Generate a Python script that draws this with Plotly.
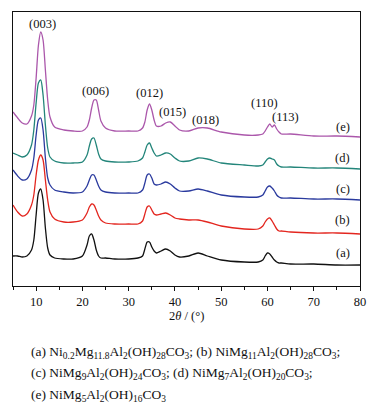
import plotly.graph_objects as go

two_theta = [5, 6, 7, 8, 9, 9.5, 10, 10.5, 11, 11.5, 12, 12.5, 13, 14, 16, 18, 20, 21, 21.5, 22,
             22.5, 23, 23.5, 24, 25, 27, 30, 32, 33, 33.5, 34, 34.5, 35, 35.5, 36, 37, 38, 39, 40, 41,
             43, 45, 47, 50, 55, 58, 59, 59.5, 60, 60.5, 61, 61.5, 62, 62.5, 63, 65, 70, 75, 80]

int_e = [174, 168, 163, 162, 170, 181, 208, 241, 254, 246, 216, 186, 169, 159, 156, 155, 155, 159, 166, 178,
         186, 186, 176, 165, 158, 155, 155, 155, 158, 164, 176, 182, 176, 166, 160, 160, 163, 164, 160, 156,
         155, 158, 158, 154, 151, 151, 152, 155, 159, 162, 159, 161, 157, 154, 152, 152, 150, 150, 149]
int_d = [133, 131, 129, 131, 141, 156, 183, 203, 206, 191, 161, 138, 129, 125, 123, 123, 124, 131, 140, 147,
         148, 141, 132, 127, 125, 124, 124, 125, 128, 134, 141, 143, 138, 133, 130, 131, 133, 132, 128, 125,
         125, 128, 127, 123, 121, 120, 121, 124, 127, 128, 127, 126, 122, 120, 119, 119, 118, 118, 117]
int_c = [116, 110, 106, 107, 116, 128, 151, 166, 168, 156, 128, 108, 101, 96, 94, 93, 94, 100, 106, 111,
         111, 106, 100, 96, 94, 93, 93, 93, 96, 103, 111, 112, 108, 102, 101, 102, 104, 102, 98, 95,
         95, 97, 95, 91, 89, 89, 91, 95, 99, 100, 98, 95, 91, 89, 88, 88, 87, 87, 86]
int_b = [81, 74, 70, 72, 81, 91, 111, 126, 131, 126, 106, 86, 74, 67, 64, 64, 66, 73, 79, 82,
         81, 76, 70, 66, 63, 62, 62, 62, 65, 72, 79, 80, 76, 72, 71, 72, 73, 71, 68, 67,
         66, 66, 64, 60, 57, 57, 60, 64, 67, 68, 65, 61, 57, 55, 55, 54, 53, 53, 52]
int_a = [30, 30, 29, 30, 36, 46, 71, 93, 97, 86, 58, 38, 31, 28, 27, 27, 30, 41, 50, 52,
         46, 36, 30, 28, 28, 27, 27, 28, 30, 37, 44, 44, 39, 35, 33, 35, 37, 35, 31, 29,
         30, 33, 30, 26, 24, 24, 26, 30, 33, 32, 29, 26, 24, 23, 23, 22, 22, 21, 21]

series = [("(a)", int_a, "#111111"), ("(b)", int_b, "#e3261f"), ("(c)", int_c, "#2a3a9e"),
          ("(d)", int_d, "#23857a"), ("(e)", int_e, "#ab57ab")]

peak_labels = ["(003)", "(006)", "(012)", "(015)", "(018)", "(110)", "(113)"]
peak_x = [11.4, 22.8, 34.5, 39.4, 46.6, 59.4, 63.9]
peak_y = [262, 195, 193, 174, 166, 183, 169]

curve_labels = ["(a)", "(b)", "(c)", "(d)", "(e)"]
curve_label_y = [33, 66, 97, 128, 159]

caption = [
    "(a) Ni<sub>0.2</sub>Mg<sub>11.8</sub>Al<sub>2</sub>(OH)<sub>28</sub>CO<sub>3</sub>; "
    "(b) NiMg<sub>11</sub>Al<sub>2</sub>(OH)<sub>28</sub>CO<sub>3</sub>;",
    "(c) NiMg<sub>9</sub>Al<sub>2</sub>(OH)<sub>24</sub>CO<sub>3</sub>; "
    "(d) NiMg<sub>7</sub>Al<sub>2</sub>(OH)<sub>20</sub>CO<sub>3</sub>;",
    "(e) NiMg<sub>5</sub>Al<sub>2</sub>(OH)<sub>16</sub>CO<sub>3</sub>",
]

FONT = "Liberation Serif"

fig = go.Figure()
for name, ys, col in series:
    fig.add_trace(go.Scatter(x=two_theta, y=ys, mode="lines", name=name,
                             line=dict(color=col, width=1.3, shape="spline", smoothing=0.7),
                             showlegend=False, hoverinfo="skip"))

ann = []
for t, x, y in zip(peak_labels, peak_x, peak_y):
    ann.append(dict(x=x, y=y, text=t, showarrow=False, xref="x", yref="y",
                    font=dict(size=12.5, color="#111", family=FONT)))
for t, y in zip(curve_labels, curve_label_y):
    ann.append(dict(x=76.3, y=y, text=t, showarrow=False, xref="x", yref="y",
                    font=dict(size=12.5, color="#111", family=FONT)))
for i, t in enumerate(caption):
    ann.append(dict(x=0.046, y=-0.241 - 0.0795 * i, text=t, showarrow=False, xref="paper", yref="paper",
                    xanchor="left", yanchor="middle", font=dict(size=13.5, color="#111", family=FONT)))
ann.append(dict(x=0.5, y=-0.108, text="2<i>θ</i> / (°)", showarrow=False, xref="paper", yref="paper",
                xanchor="center", yanchor="middle", font=dict(size=12.5, color="#111", family=FONT)))

fig.update_layout(
    width=384, height=411,
    margin=dict(l=13, r=24, t=12, b=125),
    paper_bgcolor="white", plot_bgcolor="white",
    font=dict(family=FONT, size=12.5, color="#111"),
    annotations=ann,
    xaxis=dict(range=[5, 80], showgrid=False, zeroline=False, showline=True, linecolor="#111",
               linewidth=1.2, mirror=True, ticks="outside", ticklen=4, tickwidth=1, tickcolor="#111",
               tickvals=[10, 20, 30, 40, 50, 60, 70, 80],
               minor=dict(ticks="outside", ticklen=3, dtick=5, tick0=5, tickcolor="#111"),
               tickfont=dict(size=12.5, family=FONT)),
    yaxis=dict(range=[0, 274], showgrid=False, zeroline=False, showline=True, linecolor="#111",
               linewidth=1.2, mirror=True, ticks="", showticklabels=False),
)

fig.write_html("out.html", config={"displayModeBar": False},
               post_script="document.body.style.margin='0';document.body.style.overflow='hidden';")
